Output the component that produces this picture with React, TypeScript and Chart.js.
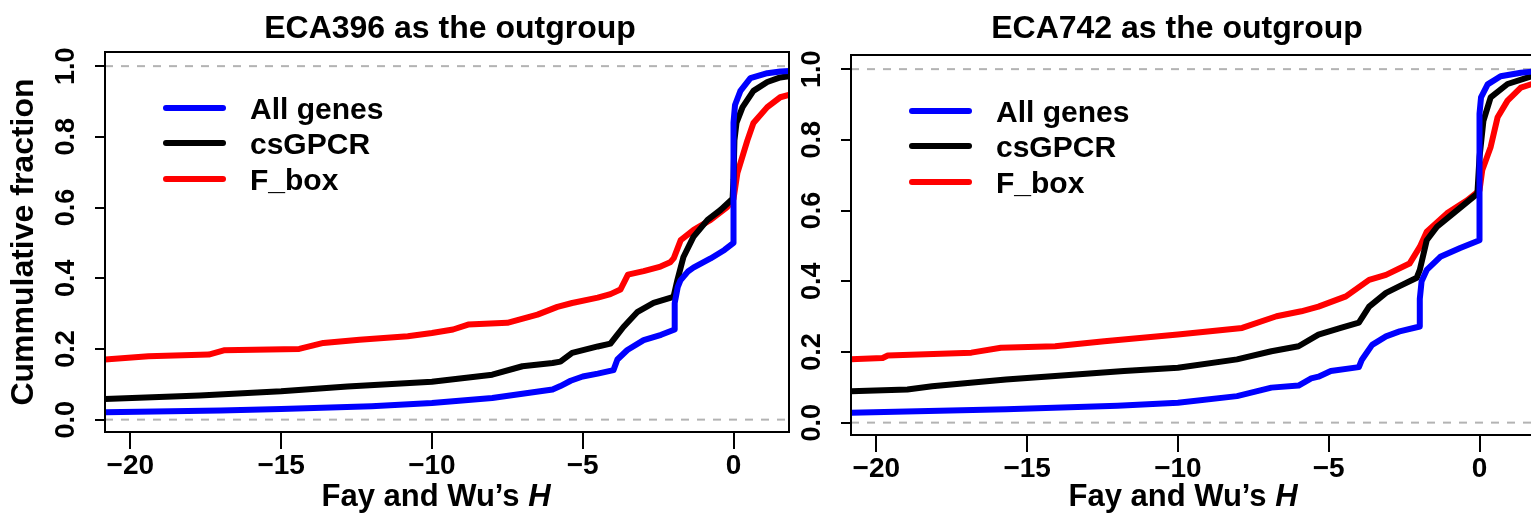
import React, { useEffect, useRef } from "react";
import { Chart, registerables } from "chart.js";

Chart.register(...registerables);

const FONT = "'Liberation Sans', Arial, Helvetica, sans-serif";

// ---------- labels / ticks ----------
const seriesLabels = ["All genes", "csGPCR", "F_box"];
const seriesColors = ["#0000FF", "#000000", "#FF0000"];
const panelTitles = ["ECA396 as the outgroup", "ECA742 as the outgroup"];
const xAxisTitleMain = "Fay and Wu\u2019s ";
const xAxisTitleItalic = "H";
const yAxisTitle = "Cummulative fraction";
const xTickValues = [-20, -15, -10, -5, 0];
const yTickValues = [0, 0.2, 0.4, 0.6, 0.8, 1.0];
const yTickLabels = ["0.0", "0.2", "0.4", "0.6", "0.8", "1.0"];
const xLimits = [-20.84, 1.84];
const yLimits = [-0.035, 1.04];
const referenceLines = [0, 1];

// ---------- ECA396 panel ----------
const eca396AllX = [-20.84, -17, -15, -12, -10, -8, -6, -5.74, -5.4, -5, -4.5, -3.98, -3.85, -3.52, -2.98, -2.4, -1.95, -1.95, -1.85, -1.76, -1.5, -1.33, -0.76, -0.3, 0, 0, 0.05, 0.23, 0.56, 1.12, 1.55, 2.5];
const eca396AllY = [0.021, 0.026, 0.03, 0.038, 0.047, 0.061, 0.085, 0.095, 0.11, 0.122, 0.13, 0.14, 0.17, 0.197, 0.225, 0.24, 0.255, 0.33, 0.375, 0.394, 0.42, 0.43, 0.456, 0.48, 0.5, 0.84, 0.89, 0.93, 0.966, 0.98, 0.985, 0.99];

const eca396GpcrX = [-20.84, -17.7, -15, -12.8, -10, -9, -8, -7, -6, -5.74, -5.35, -4.5, -4.08, -3.9, -3.65, -3.18, -2.65, -1.99, -1.86, -1.66, -1.33, -0.86, -0.43, -0.03, 0, 0.03, 0.1, 0.3, 0.66, 1.12, 1.55, 2.5];
const eca396GpcrY = [0.058, 0.068, 0.08, 0.094, 0.107, 0.117, 0.127, 0.151, 0.16, 0.164, 0.189, 0.207, 0.215, 0.235, 0.262, 0.305, 0.33, 0.347, 0.395, 0.46, 0.517, 0.565, 0.593, 0.625, 0.68, 0.79, 0.84, 0.884, 0.93, 0.955, 0.968, 0.98];

const eca396FboxX = [-20.84, -19.4, -17.4, -16.9, -14.4, -13.6, -12.4, -10.8, -10, -9.3, -8.8, -7.5, -6.5, -5.84, -5.35, -4.5, -4.08, -3.75, -3.5, -2.98, -2.42, -2.1, -1.98, -1.75, -1.32, -0.76, -0.2, 0, 0.13, 0.46, 0.66, 1.12, 1.55, 2.5];
const eca396FboxY = [0.17, 0.179, 0.184, 0.196, 0.2, 0.217, 0.226, 0.236, 0.245, 0.255, 0.269, 0.274, 0.297, 0.319, 0.33, 0.345, 0.355, 0.368, 0.41, 0.42, 0.433, 0.445, 0.457, 0.508, 0.537, 0.565, 0.602, 0.625, 0.698, 0.79, 0.839, 0.884, 0.912, 0.935];

// ---------- ECA742 panel ----------
const eca742AllX = [-20.84, -15.7, -12, -10, -8.04, -6.9, -6.0, -5.58, -5.34, -4.93, -4.0, -3.9, -3.56, -3.1, -2.65, -1.98, -1.98, -1.92, -1.75, -1.3, -0.64, 0, 0, 0.05, 0.27, 0.7, 1.37, 1.74, 2.5];
const eca742AllY = [0.028, 0.038, 0.048, 0.056, 0.075, 0.099, 0.105, 0.125, 0.13, 0.146, 0.157, 0.178, 0.22, 0.244, 0.258, 0.272, 0.35, 0.4, 0.432, 0.469, 0.494, 0.516, 0.874, 0.92, 0.957, 0.98, 0.99, 0.993, 0.996];

const eca742GpcrX = [-20.84, -18.97, -18.15, -15.7, -14.07, -11.79, -10, -8.04, -6.9, -6.0, -5.34, -4.6, -4.0, -3.66, -3.1, -2.65, -2.08, -1.98, -1.75, -1.41, -0.87, -0.07, 0, 0.13, 0.37, 0.93, 1.74, 2.5];
const eca742GpcrY = [0.089, 0.094, 0.103, 0.122, 0.132, 0.146, 0.155, 0.179, 0.202, 0.216, 0.249, 0.268, 0.283, 0.328, 0.367, 0.386, 0.41, 0.432, 0.516, 0.554, 0.592, 0.648, 0.751, 0.854, 0.92, 0.958, 0.98, 0.99];

const eca742FboxX = [-20.84, -19.79, -19.62, -16.85, -15.87, -14.07, -12.44, -10, -8.85, -7.87, -6.73, -5.91, -5.34, -4.43, -3.66, -3.1, -2.32, -1.98, -1.75, -1.08, -0.41, 0, 0.09, 0.37, 0.6, 0.93, 1.37, 1.74, 2.5];
const eca742FboxY = [0.179, 0.183, 0.19, 0.198, 0.212, 0.216, 0.23, 0.249, 0.259, 0.268, 0.301, 0.315, 0.328, 0.357, 0.404, 0.418, 0.45, 0.497, 0.54, 0.592, 0.629, 0.657, 0.714, 0.78, 0.864, 0.911, 0.948, 0.958, 0.965];

const pair = (xs: number[], ys: number[]) => xs.map((x, i) => ({ x, y: ys[i] }));

const fmtX = (v: number) => (v < 0 ? "\u2212" + Math.abs(v) : String(v));

type PanelCfg = {
  title: string;
  series: { x: number; y: number }[][];
  canvasLeft: number;
  canvasWidth: number;
  yAxisWidth: number;
  padRight: number;
  padTop: number;
  xAxisHeight: number;
  showYTitle: boolean;
  titleX: number;
  xTitleX: number;
};

const panels: PanelCfg[] = [
  {
    title: panelTitles[0],
    series: [pair(eca396AllX, eca396AllY), pair(eca396GpcrX, eca396GpcrY), pair(eca396FboxX, eca396FboxY)],
    canvasLeft: 0,
    canvasWidth: 800,
    yAxisWidth: 105,
    padRight: 11,
    padTop: 52,
    xAxisHeight: 84,
    showYTitle: true,
    titleX: 450,
    xTitleX: 436,
  },
  {
    title: panelTitles[1],
    series: [pair(eca742AllX, eca742AllY), pair(eca742GpcrX, eca742GpcrY), pair(eca742FboxX, eca742FboxY)],
    canvasLeft: 795,
    canvasWidth: 750,
    yAxisWidth: 56,
    padRight: 10,
    padTop: 55,
    xAxisHeight: 81,
    showYTitle: false,
    titleX: 382,
    xTitleX: 388,
  },
];

function makeDecor(cfg: PanelCfg) {
  return {
    id: "decor",
    beforeDatasetsDraw(chart: any) {
      const { ctx, chartArea } = chart;
      const ys = chart.scales.y;
      ctx.save();
      ctx.beginPath();
      ctx.rect(chartArea.left, chartArea.top, chartArea.right - chartArea.left, chartArea.bottom - chartArea.top);
      ctx.clip();
      ctx.strokeStyle = "#B3B3B3";
      ctx.lineWidth = 2;
      ctx.setLineDash([8, 8]);
      referenceLines.forEach((v) => {
        const py = ys.getPixelForValue(v);
        ctx.beginPath();
        ctx.moveTo(chartArea.left, py);
        ctx.lineTo(chartArea.right, py);
        ctx.stroke();
      });
      ctx.restore();
    },
    afterDraw(chart: any) {
      const { ctx, chartArea } = chart;
      const ys = chart.scales.y;
      ctx.save();
      // frame
      ctx.strokeStyle = "#000";
      ctx.lineWidth = 2;
      ctx.strokeRect(chartArea.left, chartArea.top, chartArea.right - chartArea.left, chartArea.bottom - chartArea.top);

      ctx.fillStyle = "#000";
      // rotated y tick labels
      ctx.font = `bold 27px ${FONT}`;
      ctx.textAlign = "center";
      ctx.textBaseline = "middle";
      yTickValues.forEach((v, i) => {
        const py = ys.getPixelForValue(v);
        ctx.save();
        ctx.translate(chartArea.left - 38, py);
        ctx.rotate(-Math.PI / 2);
        ctx.fillText(yTickLabels[i], 0, 0);
        ctx.restore();
      });

      // title
      ctx.font = `bold 32px ${FONT}`;
      ctx.textAlign = "center";
      ctx.textBaseline = "alphabetic";
      ctx.fillText(cfg.title, cfg.titleX, 38);

      // x axis title with italic H
      ctx.font = `bold 31px ${FONT}`;
      const w1 = ctx.measureText(xAxisTitleMain).width;
      ctx.font = `italic bold 31px ${FONT}`;
      const w2 = ctx.measureText(xAxisTitleItalic).width;
      const start = cfg.xTitleX - (w1 + w2) / 2;
      ctx.textAlign = "left";
      ctx.font = `bold 31px ${FONT}`;
      ctx.fillText(xAxisTitleMain, start, 506);
      ctx.font = `italic bold 31px ${FONT}`;
      ctx.fillText(xAxisTitleItalic, start + w1, 506);

      // legend
      const rows = [56, 91, 127];
      ctx.font = `bold 30px ${FONT}`;
      ctx.textAlign = "left";
      ctx.lineCap = "round";
      seriesLabels.forEach((lab, i) => {
        const y = chartArea.top + rows[i];
        ctx.strokeStyle = seriesColors[i];
        ctx.lineWidth = 6;
        ctx.beginPath();
        ctx.moveTo(chartArea.left + 61, y);
        ctx.lineTo(chartArea.left + 118, y);
        ctx.stroke();
        ctx.fillStyle = "#000";
        ctx.fillText(lab, chartArea.left + 145, y + 11);
      });
      ctx.restore();
    },
  };
}

function Panel({ cfg }: { cfg: PanelCfg }) {
  const ref = useRef<HTMLCanvasElement>(null);
  useEffect(() => {
    const chart = new Chart(ref.current as HTMLCanvasElement, {
      type: "line",
      data: {
        datasets: cfg.series.map((pts, i) => ({
          label: seriesLabels[i],
          data: pts,
          borderColor: seriesColors[i],
          backgroundColor: seriesColors[i],
          borderWidth: 6,
          pointRadius: 0,
          tension: 0,
          fill: false,
          clip: 0,
          borderCapStyle: "round",
          borderJoinStyle: "round",
        })) as any,
      },
      options: {
        animation: false,
        responsive: false,
        events: [],
        layout: { padding: { left: 0, right: cfg.padRight, top: cfg.padTop, bottom: 0 } },
        plugins: {
          legend: { display: false },
          title: { display: false },
          tooltip: { enabled: false },
        },
        scales: {
          x: {
            type: "linear",
            min: xLimits[0],
            max: xLimits[1],
            afterBuildTicks: (s: any) => {
              s.ticks = xTickValues.map((v) => ({ value: v }));
            },
            afterFit: (s: any) => {
              s.height = cfg.xAxisHeight;
            },
            ticks: {
              color: "#000",
              padding: 0,
              maxRotation: 0,
              autoSkip: false,
              font: { family: FONT, size: 28, weight: "bold" },
              callback: (v: any) => fmtX(Number(v)),
            },
            grid: { drawOnChartArea: false, drawTicks: true, tickLength: 17, color: "#000", lineWidth: 2 },
            border: { display: false },
          },
          y: {
            type: "linear",
            min: yLimits[0],
            max: yLimits[1],
            afterBuildTicks: (s: any) => {
              s.ticks = yTickValues.map((v) => ({ value: v }));
            },
            afterFit: (s: any) => {
              s.width = cfg.yAxisWidth;
            },
            ticks: { display: false },
            grid: { drawOnChartArea: false, drawTicks: true, tickLength: 10, color: "#000", lineWidth: 2 },
            border: { display: false },
            title: {
              display: cfg.showYTitle,
              text: yAxisTitle,
              color: "#000",
              font: { family: FONT, size: 32, weight: "bold" },
              padding: { top: 5, bottom: 0 },
            },
          },
        },
      } as any,
      plugins: [makeDecor(cfg)],
    });
    return () => chart.destroy();
  }, [cfg]);
  return (
    <canvas
      ref={ref}
      width={cfg.canvasWidth}
      height={516}
      style={{ position: "absolute", left: cfg.canvasLeft, top: 0, width: cfg.canvasWidth, height: 516 }}
    />
  );
}

export default function App() {
  return (
    <div
      style={{
        position: "fixed",
        left: 0,
        top: 0,
        width: 1531,
        height: 516,
        overflow: "hidden",
        background: "#fff",
      }}
    >
      {panels.map((p, i) => (
        <Panel key={i} cfg={p} />
      ))}
    </div>
  );
}
